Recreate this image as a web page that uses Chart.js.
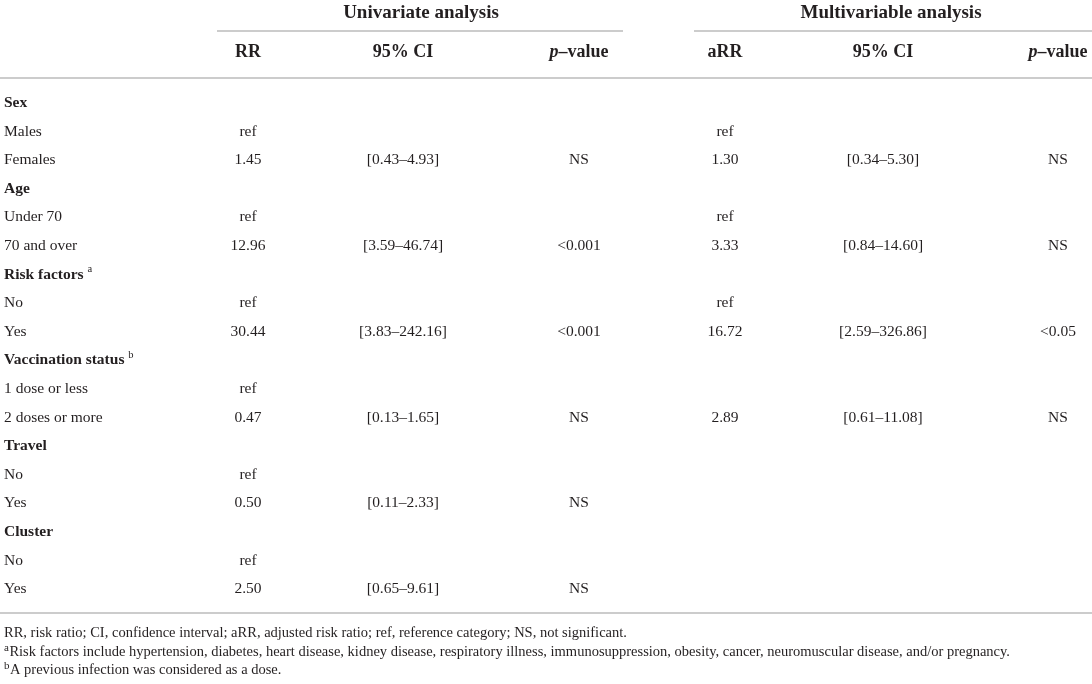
<!DOCTYPE html>
<html>
<head>
<meta charset="utf-8">
<script src="https://cdn.jsdelivr.net/npm/chart.js@4.4.1/dist/chart.umd.min.js"></script>
<style>
  html, body { margin: 0; padding: 0; background: #ffffff; }
  #wrap { width: 1092px; height: 684px; position: relative; }
</style>
</head>
<body>
<div id="wrap"><canvas id="c"></canvas></div>
<script>
// ---------------- DATA ----------------
const rowLabels = ['Sex','Males','Females','Age','Under 70','70 and over','Risk factors','No','Yes',
  'Vaccination status','1 dose or less','2 doses or more','Travel','No','Yes','Cluster','No','Yes'];
const groupRows = [true,false,false,true,false,false,true,false,false,true,false,false,true,false,false,true,false,false];
const rowNotes  = ['','','','','','','a','','','b','','','','','','','',''];

// Univariate analysis
const rrValues = [null,'ref',1.45,null,'ref',12.96,null,'ref',30.44,null,'ref',0.47,null,'ref',0.50,null,'ref',2.50];
const rrLow    = [null,null,0.43,null,null,3.59,null,null,3.83,null,null,0.13,null,null,0.11,null,null,0.65];
const rrHigh   = [null,null,4.93,null,null,46.74,null,null,242.16,null,null,1.65,null,null,2.33,null,null,9.61];
const rrP      = [null,null,'NS',null,null,'<0.001',null,null,'<0.001',null,null,'NS',null,null,'NS',null,null,'NS'];

// Multivariable analysis
const arrValues = [null,'ref',1.30,null,'ref',3.33,null,'ref',16.72,null,null,2.89,null,null,null,null,null,null];
const arrLow    = [null,null,0.34,null,null,0.84,null,null,2.59,null,null,0.61,null,null,null,null,null,null];
const arrHigh   = [null,null,5.30,null,null,14.60,null,null,326.86,null,null,11.08,null,null,null,null,null,null];
const arrP      = [null,null,'NS',null,null,'NS',null,null,'<0.05',null,null,'NS',null,null,null,null,null,null];

const groupTitles = ['Univariate analysis','Multivariable analysis'];
const columnHeaders = ['RR','95% CI','p-value','aRR','95% CI','p-value'];
const footnotes = [
  {mark:'', text:'RR, risk ratio; CI, confidence interval; aRR, adjusted risk ratio; ref, reference category; NS, not significant.'},
  {mark:'a', text:'Risk factors include hypertension, diabetes, heart disease, kidney disease, respiratory illness, immunosuppression, obesity, cancer, neuromuscular disease, and/or pregnancy.'},
  {mark:'b', text:'A previous infection was considered as a dose.'}
];

// ---------------- LAYOUT / STYLE ----------------
const LAYOUT = {
  labelX: 4,
  colX: [248, 403, 579, 725, 883, 1058],
  titleX: [421, 891],
  titleY: 13,
  ruleY: 31,
  ruleSpans: [[217, 623], [694, 1092]],
  headerY: 52,
  topRuleY: 78,
  bottomRuleY: 613,
  footY: [633, 652, 670]
};
const FONT = '"Liberation Serif", "DejaVu Serif", serif';
const TEXT = '#231f20';
const RULE = '#cccccc';

function fmt(v) { return (typeof v === 'number') ? v.toFixed(2) : v; }
function ciText(lo, hi) { return '[' + lo.toFixed(2) + '\u2013' + hi.toFixed(2) + ']'; }

function makeDataset(name, col, values) {
  const pts = [], texts = [];
  values.forEach((v, i) => {
    if (v !== null && v !== undefined) { pts.push({x: LAYOUT.colX[col], y: i}); texts.push(v); }
  });
  return { label: name, data: pts, texts: texts, pointRadius: 0, pointHoverRadius: 0, showLine: false };
}

const datasets = [
  makeDataset('RR', 0, rrValues.map(fmt)),
  makeDataset('CI', 1, rrLow.map((l, i) => l === null ? null : ciText(l, rrHigh[i]))),
  makeDataset('p', 2, rrP),
  makeDataset('aRR', 3, arrValues.map(fmt)),
  makeDataset('aCI', 4, arrLow.map((l, i) => l === null ? null : ciText(l, arrHigh[i]))),
  makeDataset('ap', 5, arrP)
];

const tablePlugin = {
  id: 'tableText',
  afterDatasetsDraw(chart) {
    const ctx = chart.ctx;
    const xs = chart.scales.x, ys = chart.scales.y;
    ctx.save();
    ctx.fillStyle = TEXT;
    ctx.textBaseline = 'middle';

    // rules
    ctx.strokeStyle = RULE;
    ctx.lineWidth = 2;
    const hline = (x0, x1, y) => { ctx.beginPath(); ctx.moveTo(x0, y); ctx.lineTo(x1, y); ctx.stroke(); };
    LAYOUT.ruleSpans.forEach(s => hline(xs.getPixelForValue(s[0]), xs.getPixelForValue(s[1]), LAYOUT.ruleY));
    hline(xs.getPixelForValue(0), xs.getPixelForValue(1092), LAYOUT.topRuleY);
    hline(xs.getPixelForValue(0), xs.getPixelForValue(1092), LAYOUT.bottomRuleY);

    // group titles
    ctx.textAlign = 'center';
    ctx.font = 'bold 19px ' + FONT;
    groupTitles.forEach((t, i) => ctx.fillText(t, xs.getPixelForValue(LAYOUT.titleX[i]), LAYOUT.titleY));

    // column headers
    columnHeaders.forEach((h, i) => {
      const cx = xs.getPixelForValue(LAYOUT.colX[i]);
      if (h === 'p-value') {
        const a = 'p', b = '\u2013value';
        ctx.font = 'bold italic 18px ' + FONT;
        const wa = ctx.measureText(a).width;
        ctx.font = 'bold 18px ' + FONT;
        const wb = ctx.measureText(b).width;
        let x0 = cx - (wa + wb) / 2;
        ctx.textAlign = 'left';
        ctx.font = 'bold italic 18px ' + FONT;
        ctx.fillText(a, x0, LAYOUT.headerY);
        ctx.font = 'bold 18px ' + FONT;
        ctx.fillText(b, x0 + wa, LAYOUT.headerY);
      } else {
        ctx.textAlign = 'center';
        ctx.font = 'bold 18px ' + FONT;
        ctx.fillText(h, cx, LAYOUT.headerY);
      }
    });

    // row labels
    rowLabels.forEach((lab, i) => {
      const y = ys.getPixelForValue(i);
      const x = xs.getPixelForValue(LAYOUT.labelX);
      ctx.textAlign = 'left';
      ctx.font = (groupRows[i] ? 'bold ' : '') + '15.5px ' + FONT;
      ctx.fillText(lab, x, y);
      if (rowNotes[i]) {
        const w = ctx.measureText(lab + ' ').width;
        ctx.font = '10.5px ' + FONT;
        ctx.fillText(rowNotes[i], x + w, y - 5);
      }
    });

    // cell values from datasets
    ctx.textAlign = 'center';
    ctx.font = '15.5px ' + FONT;
    chart.data.datasets.forEach((ds, di) => {
      const meta = chart.getDatasetMeta(di);
      meta.data.forEach((el, j) => ctx.fillText(ds.texts[j], el.x, el.y));
    });

    // footnotes
    ctx.textAlign = 'left';
    footnotes.forEach((f, i) => {
      let x = xs.getPixelForValue(LAYOUT.labelX);
      const y = LAYOUT.footY[i];
      if (f.mark) {
        ctx.font = '11px ' + FONT;
        ctx.fillText(f.mark, x, y - 4);
        x += ctx.measureText(f.mark).width + 0.5;
      }
      ctx.font = '14.5px ' + FONT;
      ctx.fillText(f.text, x, y);
    });
    ctx.restore();
  }
};

new Chart(document.getElementById('c'), {
  type: 'scatter',
  data: { datasets: datasets },
  options: {
    responsive: true,
    maintainAspectRatio: false,
    animation: false,
    events: [],
    layout: { padding: { top: 88.7, bottom: 80.5, left: 0, right: 0 } },
    plugins: { legend: { display: false }, tooltip: { enabled: false }, title: { display: false } },
    scales: {
      x: { type: 'linear', min: 0, max: 1092, display: false },
      y: { type: 'linear', min: -0.5, max: 17.5, reverse: true, display: false }
    }
  },
  plugins: [tablePlugin]
});
</script>
</body>
</html>
